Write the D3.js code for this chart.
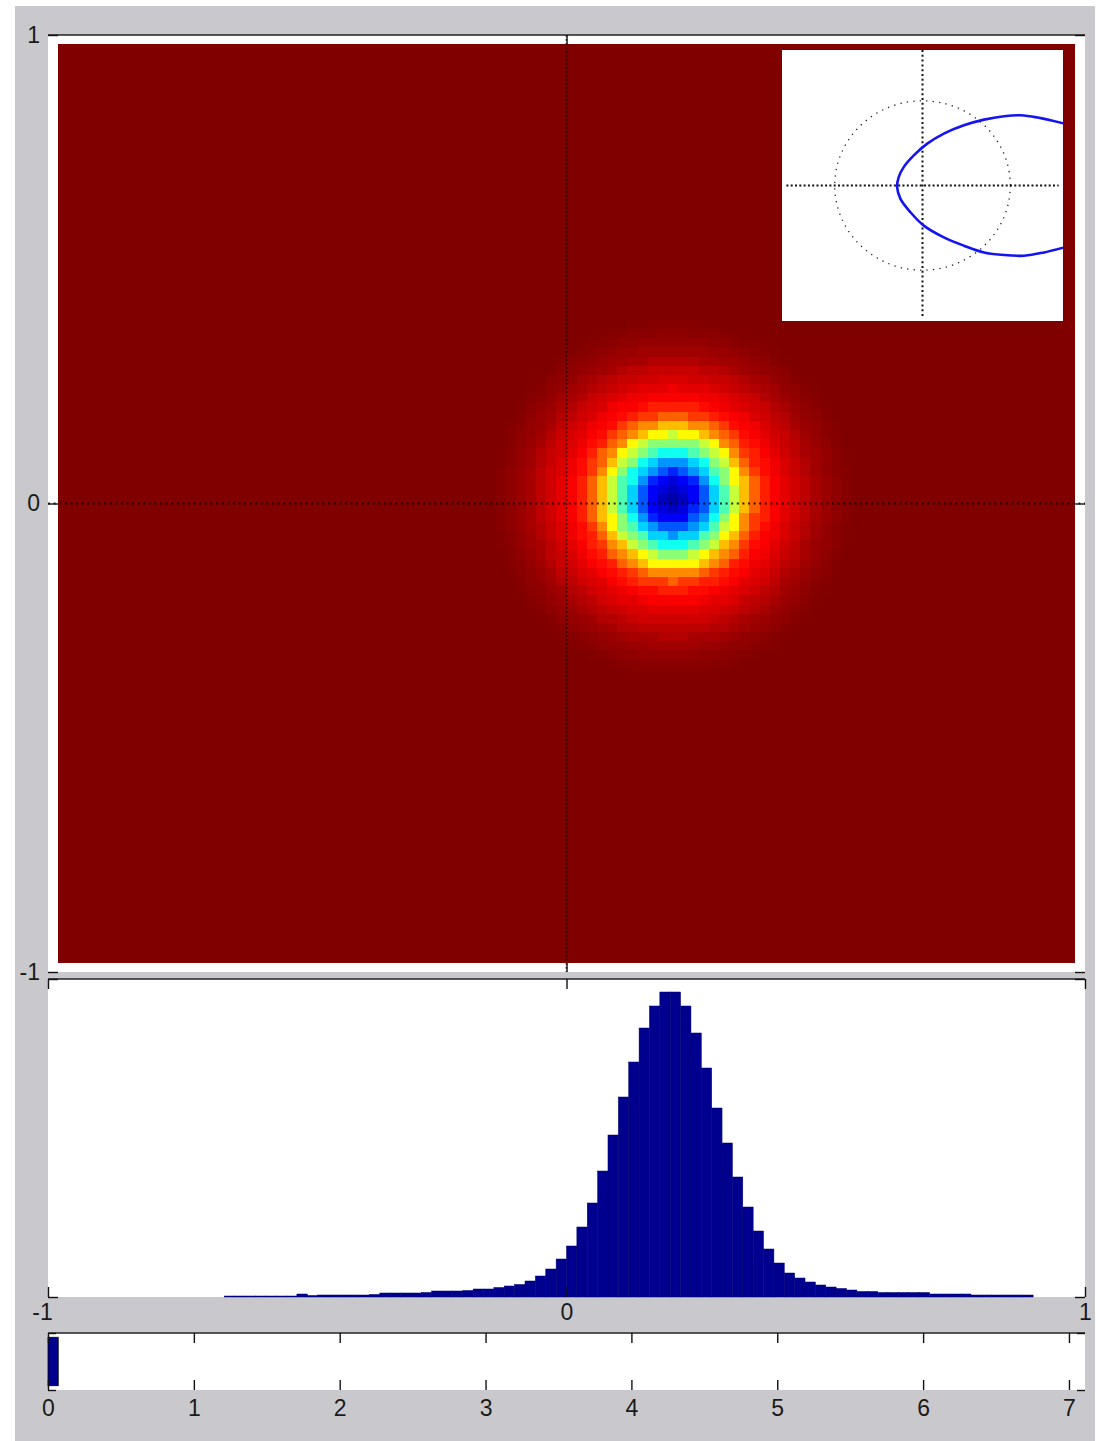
<!DOCTYPE html>
<html><head><meta charset="utf-8">
<script src="https://cdn.jsdelivr.net/npm/d3@7"></script>
<style>
body{margin:0;background:#fff}
svg{display:block}
</style>
</head><body>
<svg id="c" width="1099" height="1441"></svg>
<script>
// ---------------- DATA ----------------
// main map (jet colour index 0..1), image of 100 x 100 cells
const heatCells = 100;
const heatExtent = 0.98;
const blobCenterX = 0.205;
const blobCenterY = 0.012;
const ringStep = 0.0098;           // radial step (x data units) of the profile below
const ringLevels = [0.04,0.05,0.065,0.09,0.12,0.16,0.21,0.27,0.33,0.39,0.45,0.51,0.57,0.63,0.69,0.74,0.78,0.82,0.845,0.865,0.88,0.89,0.90,0.91,0.92,0.93,0.94,0.95,0.96,0.967,0.974,0.98,0.985,0.99,0.994,0.997];
const heatBackground = 1.0;
const mainYTicks = [1, 0, -1];
const mainXTicks = [0];

// inset curve
const insetCurveX = [1.615,1.311,1.12,0.929,0.701,0.472,0.243,0.054,-0.099,-0.214,-0.271,-0.289,-0.251,-0.137,0.015,0.243,0.472,0.701,0.929,1.158,1.386,1.615];
const insetCurveY = [0.731,0.802,0.829,0.818,0.778,0.711,0.613,0.494,0.355,0.217,0.098,-0.020,-0.158,-0.316,-0.474,-0.613,-0.711,-0.790,-0.821,-0.829,-0.790,-0.731];
const insetLim = 1.6;
const insetCross = 1.55;
const insetCircleR = 1;

// histogram (100 bins over -1..1)
const histStart = -1;
const histBinWidth = 0.02;
const histCounts = [
  0,0,0,0,0,0,0,0,0,0,
  0,0,0,0,0,0,0,1,1,1,
  1,1,1,1,3,1.5,2,2,2,2,
  2,2.5,4,4,4,4,4.5,6,6,6,
  6.5,8,8,9.5,11,12.5,16,21,28,38,
  51,70,94,126,162,200,235,269,291,305,
  305,291,264,229,189,154,120,90,66,48,
  34,24,19,15,12,10,8.5,7,5.5,5.5,
  4.5,4.5,4.5,4.5,4.5,3,3,3,3,2,
  2,2,2,2,2,0,0,0,0,0];
const histYMax = 318;
const histXTicks = [-1, 0, 1];

// bottom bar chart
const barCategory = [1];
const barValues = [0.07];
const barXTicks = [0,1,2,3,4,5,6,7];
const barXMax = 7.11;

// ---------------- DRAW ----------------
const FONT = '"Liberation Sans", Arial, Helvetica, sans-serif';
const FS = 23;
const svg = d3.select("#c");
svg.append("rect").attr("x",15).attr("y",6).attr("width",1080).attr("height",1435).attr("fill","#c9c9cd");

function jet(v){
  const c = t => Math.max(0, Math.min(1, t));
  const r = c(1.5 - Math.abs(4*v - 3)), g = c(1.5 - Math.abs(4*v - 2)), b = c(1.5 - Math.abs(4*v - 1));
  return d3.rgb(r*255, g*255, b*255).toString();
}
const fmt = d => String(d);
function styleAxis(g){
  g.attr("font-size", FS).attr("font-family", FONT);
  g.select(".domain").remove();
  g.selectAll(".tick line").attr("stroke","#111").attr("stroke-width",1.4);
  g.selectAll(".tick text").attr("fill","#1a1a1a");
}

// ---- main axes ----
const L = 48, R = 1085;
const mx = d3.scaleLinear().domain([-1,1]).range([L,R]);
const my = d3.scaleLinear().domain([-1,1]).range([972,35]);
const gMain = svg.append("g");
gMain.append("rect").attr("x",L).attr("y",35).attr("width",R-L).attr("height",972-35).attr("fill","#fff");

const cellW = 2*heatExtent/heatCells;
const cells = [];
const unitPx = mx(1) - mx(0);
for (let j=0;j<heatCells;j++){
  for (let i=0;i<heatCells;i++){
    const x0 = -heatExtent + i*cellW, y1 = heatExtent - j*cellW;
    const cx = x0 + cellW/2, cy = y1 - cellW/2;
    const d = Math.hypot(mx(cx)-mx(blobCenterX), my(cy)-my(blobCenterY)) / unitPx;
    const k = Math.round(d/ringStep);
    const v = k < ringLevels.length ? ringLevels[k] : heatBackground;
    cells.push({x0, y1, v});
  }
}
gMain.append("g").attr("shape-rendering","crispEdges").selectAll("rect").data(cells).join("rect")
  .attr("x", d => mx(d.x0)).attr("y", d => my(d.y1))
  .attr("width", mx(cellW) - mx(0) + 0.3).attr("height", my(0) - my(cellW) + 0.3)
  .attr("fill", d => jet(d.v));

// dotted crosshair
gMain.append("line").attr("x1",mx(0)).attr("x2",mx(0)).attr("y1",my(1)).attr("y2",my(-1))
  .attr("stroke","#000").attr("stroke-width",1.8).attr("stroke-dasharray","1.8 2.2").attr("opacity",0.8);
gMain.append("line").attr("x1",mx(-1)).attr("x2",mx(1)).attr("y1",my(0)).attr("y2",my(0))
  .attr("stroke","#000").attr("stroke-width",2).attr("stroke-dasharray","2 3.6").attr("opacity",0.85);

// axes ticks
gMain.append("line").attr("x1",L).attr("x2",R).attr("y1",35).attr("y2",35).attr("stroke","#222").attr("stroke-width",1.5);
gMain.append("g").attr("transform",`translate(${L},0)`)
  .call(d3.axisLeft(my).tickValues(mainYTicks).tickSize(-10).tickPadding(8).tickFormat(fmt)).call(styleAxis);
gMain.append("g").attr("transform",`translate(${R},0)`)
  .call(d3.axisRight(my).tickValues(mainYTicks).tickSize(-10).tickFormat("")).call(styleAxis);
gMain.append("g").attr("transform",`translate(0,35)`)
  .call(d3.axisTop(mx).tickValues(mainXTicks).tickSize(-9).tickFormat("")).call(styleAxis);
gMain.append("g").attr("transform",`translate(0,972)`)
  .call(d3.axisBottom(mx).tickValues(mainXTicks).tickSize(-9).tickFormat("")).call(styleAxis);

// ---- inset ----
const ix = d3.scaleLinear().domain([-insetLim, insetLim]).range([782,1063]);
const iy = d3.scaleLinear().domain([-insetLim, insetLim]).range([321,50]);
const gIn = svg.append("g");
gIn.append("clipPath").attr("id","insetClip").append("rect")
  .attr("x",ix(-insetLim)).attr("y",iy(insetLim)).attr("width",ix(insetLim)-ix(-insetLim)).attr("height",iy(-insetLim)-iy(insetLim));
gIn.append("rect").attr("x",ix(-insetLim)).attr("y",iy(insetLim)).attr("width",ix(insetLim)-ix(-insetLim)).attr("height",iy(-insetLim)-iy(insetLim))
  .attr("fill","#fff");
gIn.append("ellipse").attr("cx",ix(0)).attr("cy",iy(0))
  .attr("rx",ix(insetCircleR)-ix(0)).attr("ry",iy(0)-iy(insetCircleR))
  .attr("fill","none").attr("stroke","#222").attr("stroke-width",1.3).attr("stroke-dasharray","1.3 5.2");
gIn.append("line").attr("x1",ix(0)).attr("x2",ix(0)).attr("y1",iy(insetLim)).attr("y2",iy(-insetCross))
  .attr("stroke","#111").attr("stroke-width",2).attr("stroke-dasharray","2 2.8");
gIn.append("line").attr("x1",ix(-insetCross)).attr("x2",ix(insetCross)).attr("y1",iy(0)).attr("y2",iy(0))
  .attr("stroke","#111").attr("stroke-width",2).attr("stroke-dasharray","2 2.3");
const curvePts = insetCurveX.map((x,i)=>[x, insetCurveY[i]]);
gIn.append("path").attr("clip-path","url(#insetClip)")
  .attr("d", d3.line().x(d=>ix(d[0])).y(d=>iy(d[1])).curve(d3.curveCatmullRom)(curvePts))
  .attr("fill","none").attr("stroke","#1414f0").attr("stroke-width",2.6);

// ---- histogram axes ----
const hx = d3.scaleLinear().domain([-1,1]).range([L,R]);
const hy = d3.scaleLinear().domain([0,histYMax]).range([1297,979]);
const gH = svg.append("g");
gH.append("rect").attr("x",L).attr("y",979).attr("width",R-L).attr("height",1297-979).attr("fill","#fff");
const bins = histCounts.map((c,i)=>({x0: histStart + i*histBinWidth, c})).filter(d=>d.c>0);
gH.append("g").selectAll("rect").data(bins).join("rect")
  .attr("x", d=>hx(d.x0)).attr("y", d=>hy(d.c))
  .attr("width", hx(histBinWidth)-hx(0)).attr("height", d=>hy(0)-hy(d.c))
  .attr("fill","#00008f").attr("stroke","#000070").attr("stroke-width",0.5);
gH.append("line").attr("x1",L).attr("x2",R).attr("y1",979).attr("y2",979).attr("stroke","#222").attr("stroke-width",1.5);
const hxb = gH.append("g").attr("transform",`translate(0,1297)`)
  .call(d3.axisBottom(hx).tickValues(histXTicks).tickSize(-10).tickPadding(7).tickFormat(fmt)).call(styleAxis);
hxb.selectAll(".tick text").filter(d=>d===-1).attr("dx",-6);
gH.append("g").attr("transform",`translate(0,979)`)
  .call(d3.axisTop(hx).tickValues(histXTicks).tickSize(-10).tickFormat("")).call(styleAxis);
gH.append("g").attr("transform",`translate(${L},0)`)
  .call(d3.axisLeft(hy).tickValues([0,histYMax]).tickSize(-10).tickFormat("")).call(styleAxis);
gH.append("g").attr("transform",`translate(${R},0)`)
  .call(d3.axisRight(hy).tickValues([0,histYMax]).tickSize(-10).tickFormat("")).call(styleAxis);

// ---- bottom bar axes ----
const bx = d3.scaleLinear().domain([0,barXMax]).range([L,R]);
const by = d3.scaleLinear().domain([0.5,1.5]).range([1390,1333]);
const gB = svg.append("g");
gB.append("rect").attr("x",L).attr("y",1333).attr("width",R-L).attr("height",1390-1333).attr("fill","#fff");
const barH = 0.85;
gB.append("g").selectAll("rect").data(barValues).join("rect")
  .attr("x", bx(0)).attr("y", (d,i)=>by(barCategory[i]+barH/2))
  .attr("width", d=>bx(d)-bx(0)).attr("height", by(1-barH/2)-by(1+barH/2))
  .attr("fill","#00008f").attr("stroke","#000").attr("stroke-width",0.8);
gB.append("line").attr("x1",L).attr("x2",R).attr("y1",1333).attr("y2",1333).attr("stroke","#222").attr("stroke-width",1.5);
gB.append("g").attr("transform",`translate(0,1390)`)
  .call(d3.axisBottom(bx).tickValues(barXTicks).tickSize(-10).tickPadding(10).tickFormat(fmt)).call(styleAxis);
gB.append("g").attr("transform",`translate(0,1333)`)
  .call(d3.axisTop(bx).tickValues(barXTicks).tickSize(-10).tickFormat("")).call(styleAxis);
gB.append("g").attr("transform",`translate(${L},0)`)
  .call(d3.axisLeft(by).tickValues([0.5,1.5]).tickSize(-8).tickFormat("")).call(styleAxis);
gB.append("g").attr("transform",`translate(${R},0)`)
  .call(d3.axisRight(by).tickValues([0.5,1.5]).tickSize(-8).tickFormat("")).call(styleAxis);
</script>
</body></html>
